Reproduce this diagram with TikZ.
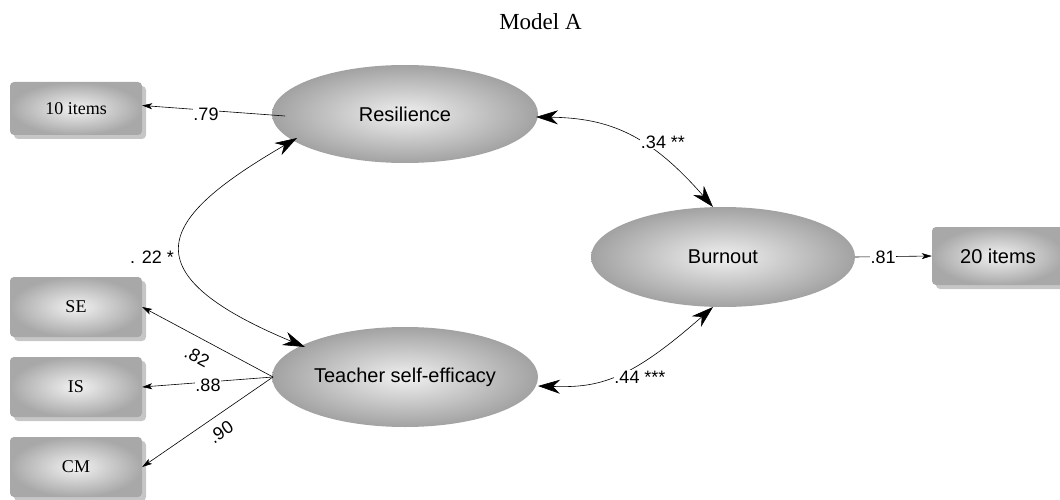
\documentclass[tikz,border=0pt]{standalone}
\usepackage{fontspec}
\setmainfont{Liberation Serif}
\newfontfamily\arialf{Liberation Sans}
\usetikzlibrary{arrows.meta,shapes.geometric,shadows}
\definecolor{boxedge}{HTML}{A8A8A8}
\definecolor{boxmid}{HTML}{F2F2F2}
\definecolor{shadowc}{HTML}{C6C6C6}
\definecolor{elledge}{HTML}{A2A2A2}
\definecolor{ellmid}{HTML}{F0F0F0}
\tikzset{
  itembox/.style={rectangle, rounded corners=4pt, inner sep=0pt,
    shading=radial, inner color=boxmid, outer color=boxedge,
    drop shadow={shadow xshift=4pt, shadow yshift=-4pt, fill=shadowc, opacity=1},
    font=\fontsize{18}{20}\selectfont},
  latent/.style={ellipse, inner sep=0pt, shading=radial, inner color=ellmid, outer color=elledge,
    font=\arialf\fontsize{20}{22}\selectfont},
  lbl/.style={font=\arialf\fontsize{18}{19}\selectfont, inner sep=0.5pt},
  lblw/.style={lbl, fill=white},
  load/.style={-{Stealth[length=10pt,width=6pt,inset=2.5pt]}, line width=0.6pt},
  cov/.style={{Stealth[length=22pt,width=14pt,inset=7pt]}-{Stealth[length=22pt,width=14pt,inset=7pt]}, line width=0.6pt},
}
\begin{document}
\begin{tikzpicture}[x=1pt,y=-1pt]
\useasboundingbox (0,0) rectangle (1060,500);
\clip (0,0) rectangle (1060,500);

\node[font=\fontsize{23}{25}\selectfont, anchor=base] (title) at (540.5,30) {Model A};

% observed boxes
\node[itembox, minimum width=132pt, minimum height=53pt] (r10) at (76,108.5) {10 items};
\node[itembox, minimum width=132pt, minimum height=60pt] (se) at (76,307) {SE};
\node[itembox, minimum width=132pt, minimum height=60pt] (is) at (76,387) {IS};
\node[itembox, minimum width=132pt, minimum height=60pt] (cm) at (76,467) {CM};
\node[itembox, minimum width=132pt, minimum height=58pt, font=\arialf\fontsize{20}{22}\selectfont] (b20) at (998,256) {20 items};

% latent variables
\node[latent, minimum width=266pt, minimum height=98pt] (res) at (405,114) {Resilience};
\node[latent, minimum width=266pt, minimum height=100pt] (tse) at (405,377) {Teacher self-efficacy};
\node[latent, minimum width=264pt, minimum height=100pt] (bur) at (723,257) {Burnout};

\coordinate (resl) at (285,116);
\coordinate (tsel) at (273,377);

% loadings
\draw[load] (resl) -- ([yshift=3pt]r10.east);
\node[lblw] (l79) at (206,114) {.79};
\draw[load] (tsel) -- (se.east);
\node[lbl, rotate=-28] (l82) at (197,357) {.82};
\draw[load] (tsel) -- (is.east);
\node[lblw] (l88) at (208,385) {.88};
\draw[load] (tsel) -- (cm.east);
\node[lbl, rotate=34] (l90) at (221,432) {.90};
\draw[load] (bur.east) -- (b20.west);
\node[lblw] (l81) at (883,257) {.81};

% covariances
\coordinate (rtop) at (297,138);
\coordinate (tbot) at (305,347);
\draw[cov] (rtop) .. controls (165,215) and (120,270) .. (tbot);
\node[lbl] (l22) at (152,257) {. 22 *};

\coordinate (rright) at (536,117);
\coordinate (btop) at (713,207);
\draw[cov] (rright) .. controls (610,118) and (650,135) .. (btop);
\node[lblw] (l34) at (663,142) {.34 **};

\coordinate (tright) at (538,386);
\coordinate (bbot) at (713,307);
\draw[cov] (tright) .. controls (600,388) and (630,380) .. (bbot);
\node[lblw] (l44) at (640,377) {.44 ***};
\end{tikzpicture}
\end{document}
